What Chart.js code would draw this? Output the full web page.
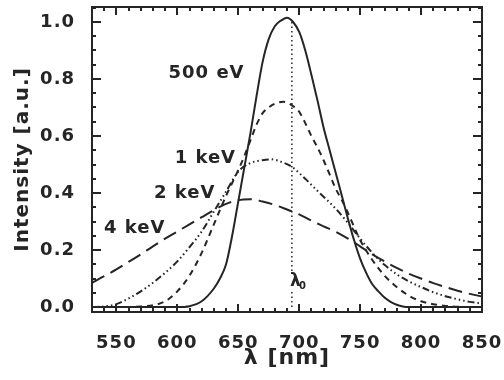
<!DOCTYPE html>
<html>
<head>
<meta charset="utf-8">
<script src="https://cdn.jsdelivr.net/npm/chart.js@4.4.1/dist/chart.umd.min.js"></script>
<style>
  html, body { margin: 0; padding: 0; background: #fff; }
  #wrap { position: relative; width: 504px; height: 380px; }
  canvas { display: block; }
  #box { position: absolute; box-sizing: border-box; border: 2px solid #252525; pointer-events: none; }
</style>
</head>
<body>
<div id="wrap">
  <canvas id="chart" width="504" height="380"></canvas>
  <div id="box"></div>
</div>
<script>
// wavelength (nm) and intensity (a.u.)
const WL_500 = [530, 600, 610, 620, 630, 635, 640, 645, 650, 655, 660, 665, 670, 675, 680, 685, 690, 695, 700, 705, 710, 715, 720, 725, 730, 735, 740, 745, 750, 755, 760, 765, 770, 775, 780, 785, 790, 850];
const I_500 = [0, 0, 0.003, 0.02, 0.065, 0.1, 0.15, 0.25, 0.37, 0.49, 0.61, 0.74, 0.86, 0.94, 0.985, 1.005, 1.015, 1.0, 0.965, 0.9, 0.815, 0.725, 0.63, 0.55, 0.47, 0.39, 0.31, 0.235, 0.17, 0.12, 0.08, 0.055, 0.033, 0.018, 0.008, 0.002, 0, 0];

const WL_1K = [530, 560, 570, 580, 590, 600, 610, 620, 630, 640, 645, 650, 655, 660, 665, 670, 675, 680, 687, 695, 700, 705, 710, 715, 720, 725, 730, 735, 740, 750, 760, 770, 780, 790, 800, 810, 820, 830, 850];
const I_1K = [0, 0, 0.002, 0.006, 0.02, 0.055, 0.11, 0.19, 0.29, 0.39, 0.435, 0.48, 0.53, 0.585, 0.64, 0.68, 0.70, 0.713, 0.72, 0.705, 0.685, 0.645, 0.6, 0.56, 0.515, 0.465, 0.415, 0.375, 0.33, 0.235, 0.165, 0.11, 0.07, 0.04, 0.02, 0.01, 0.004, 0.001, 0];

const WL_2K = [530, 540, 550, 560, 570, 580, 590, 600, 610, 620, 630, 640, 650, 660, 670, 678, 686, 694, 700, 706, 712, 720, 730, 740, 750, 760, 770, 780, 790, 800, 810, 820, 830, 840, 850];
const I_2K = [0, 0.002, 0.01, 0.03, 0.055, 0.085, 0.12, 0.16, 0.21, 0.265, 0.335, 0.405, 0.475, 0.505, 0.515, 0.518, 0.508, 0.492, 0.47, 0.446, 0.42, 0.387, 0.345, 0.295, 0.24, 0.19, 0.148, 0.115, 0.09, 0.07, 0.052, 0.038, 0.027, 0.018, 0.012];

const WL_4K = [530, 540, 550, 560, 570, 580, 590, 600, 610, 620, 630, 640, 650, 660, 670, 680, 690, 700, 710, 720, 730, 740, 750, 760, 770, 780, 790, 800, 810, 820, 830, 840, 850];
const I_4K = [0.085, 0.108, 0.132, 0.158, 0.185, 0.213, 0.24, 0.265, 0.29, 0.315, 0.34, 0.362, 0.375, 0.378, 0.37, 0.358, 0.342, 0.325, 0.303, 0.283, 0.264, 0.24, 0.213, 0.185, 0.16, 0.137, 0.117, 0.1, 0.084, 0.07, 0.057, 0.046, 0.037];

const LAMBDA_0 = 694;
const X_MIN = 530, X_MAX = 850;
const Y_MIN = -0.0175, Y_MAX = 1.0526;
const X_TICKS = [550, 600, 650, 700, 750, 800, 850];
const Y_TICKS = [0, 0.2, 0.4, 0.6, 0.8, 1.0];

// curve labels, placed in data coordinates
const LABELS = [
  { text: '500 eV', x: 624, y: 0.82 },
  { text: '1 keV', x: 623, y: 0.523 },
  { text: '2 keV', x: 606, y: 0.40 },
  { text: '4 keV', x: 565, y: 0.277 },
];

const INK = '#252525';
const FONT = 'DejaVu Sans';

function pts(xs, ys) {
  return xs.map((x, i) => ({ x, y: ys[i] }));
}

function line(data, dash) {
  return {
    data,
    borderColor: INK,
    borderWidth: 2,
    borderDash: dash,
    pointRadius: 0,
    fill: false,
    cubicInterpolationMode: 'monotone',
  };
}

// inward ticks on all four sides, curve labels
const framePlugin = {
  id: 'frame',
  beforeDraw(chart) {
    chart.ctx.letterSpacing = '1px';
  },
  afterDraw(chart) {
    const ctx = chart.ctx;
    const x = chart.scales.x;
    const y = chart.scales.y;
    const L = Math.round(x.getPixelForValue(X_MIN));
    const R = Math.round(x.getPixelForValue(X_MAX));
    const T = Math.round(y.getPixelForValue(Y_MAX));
    const B = Math.round(y.getPixelForValue(Y_MIN));
    ctx.save();
    ctx.fillStyle = INK;
    for (let v = X_MIN; v <= X_MAX; v += 10) {
      const px = Math.round(x.getPixelForValue(v));
      const len = v % 50 === 0 ? 8 : 4;
      ctx.fillRect(px - 1, B - len, 2, len);
      ctx.fillRect(px - 1, T, 2, len);
    }
    for (let i = 0; i <= 21; i++) {
      const py = Math.round(y.getPixelForValue(i * 0.05));
      const len = i % 4 === 0 ? 9 : 4;
      ctx.fillRect(L, py - 1, len, 2);
      ctx.fillRect(R - len, py - 1, len, 2);
    }

    ctx.font = `bold 18px "${FONT}"`;
    ctx.textAlign = 'center';
    ctx.textBaseline = 'middle';
    LABELS.forEach((l) => {
      ctx.fillText(l.text, x.getPixelForValue(l.x), y.getPixelForValue(l.y));
    });

    // lambda_0 marker
    const lx = x.getPixelForValue(LAMBDA_0) + 4;
    const ly = y.getPixelForValue(0.09);
    ctx.fillStyle = '#fff';
    ctx.fillRect(lx - 7, ly - 10, 18, 20);
    ctx.fillStyle = INK;
    ctx.font = `bold 17px "${FONT}"`;
    ctx.fillText('λ', lx, ly);
    ctx.font = `bold 10px "${FONT}"`;
    ctx.fillText('0', lx + 7, ly + 5);
    ctx.restore();
  },
};

const chart = new Chart(document.getElementById('chart'), {
  type: 'line',
  data: {
    datasets: [
      line(pts(WL_500, I_500), []),
      line(pts(WL_1K, I_1K), [6, 5]),
      line(pts(WL_2K, I_2K), [7, 3, 1.5, 3, 1.5, 3, 1.5, 3]),
      line(pts(WL_4K, I_4K), [14, 7]),
      {
        data: [{ x: LAMBDA_0, y: 0 }, { x: LAMBDA_0, y: 1.01 }],
        borderColor: INK,
        borderWidth: 1.5,
        borderDash: [1.5, 3],
        pointRadius: 0,
        fill: false,
      },
    ],
  },
  options: {
    responsive: false,
    animation: false,
    devicePixelRatio: 1,
    layout: { padding: { left: 0, right: 22, top: 7, bottom: 0 } },
    plugins: { legend: { display: false }, tooltip: { enabled: false } },
    scales: {
      x: {
        type: 'linear',
        min: X_MIN,
        max: X_MAX,
        grid: { display: false },
        border: { display: false },
        afterBuildTicks: (s) => { s.ticks = X_TICKS.map((v) => ({ value: v })); },
        afterFit: (s) => { s.height = 68; s.paddingLeft = 0; s.paddingRight = 0; },
        ticks: {
          autoSkip: false,
          maxRotation: 0,
          padding: 13,
          color: INK,
          font: { family: FONT, size: 18, weight: 'bold' },
        },
        title: {
          display: true,
          text: 'λ [nm]',
          color: INK,
          font: { family: FONT, size: 22, weight: 'bold' },
          padding: { top: 0, bottom: 9 },
        },
      },
      y: {
        min: Y_MIN,
        max: Y_MAX,
        grid: { display: false },
        border: { display: false },
        afterBuildTicks: (s) => { s.ticks = Y_TICKS.map((v) => ({ value: v })); },
        afterFit: (s) => { s.width = 92; s.paddingTop = 0; s.paddingBottom = 0; },
        ticks: {
          autoSkip: false,
          padding: 9,
          color: INK,
          font: { family: FONT, size: 18, weight: 'bold' },
          callback: (v) => v.toFixed(1),
        },
        title: {
          display: true,
          text: 'Intensity [a.u.]',
          color: INK,
          font: { family: FONT, size: 20, weight: 'bold' },
          padding: { top: 11, bottom: 0 },
        },
      },
    },
  },
  plugins: [framePlugin],
});

// plot frame, laid over the chart area
const area = chart.chartArea;
const box = document.getElementById('box');
box.style.left = (Math.round(area.left) - 1) + 'px';
box.style.top = (Math.round(area.top) - 1) + 'px';
box.style.width = (Math.round(area.right - area.left) + 2) + 'px';
box.style.height = (Math.round(area.bottom - area.top) + 2) + 'px';
</script>
</body>
</html>
